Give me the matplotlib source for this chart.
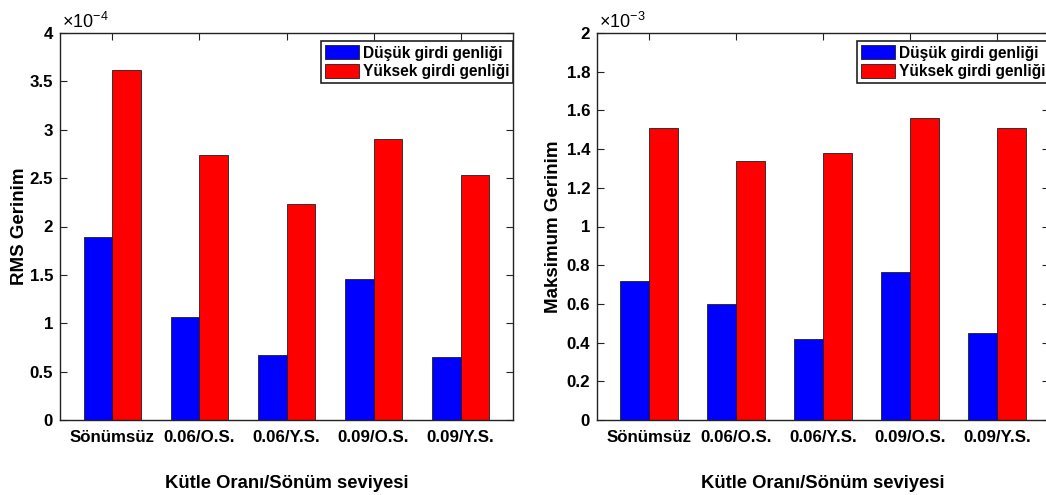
import matplotlib
matplotlib.use('Agg')
from matplotlib import pyplot as plt
from matplotlib.ticker import FuncFormatter
import numpy as np

plt.rcParams['font.family'] = ['Liberation Sans', 'DejaVu Sans']
plt.rcParams['mathtext.fontset'] = 'custom'
plt.rcParams['mathtext.rm'] = 'Liberation Sans'
plt.rcParams['mathtext.it'] = 'Liberation Sans'

categories = ['Sönümsüz', '0.06/O.S.', '0.06/Y.S.', '0.09/O.S.', '0.09/Y.S.']
series_names = ['Düşük girdi genliği', 'Yüksek girdi genliği']

# RMS strain, x 1e-4
rms_low = [1.89, 1.06, 0.67, 1.46, 0.65]
rms_high = [3.62, 2.74, 2.23, 2.90, 2.53]

# max strain, x 1e-3
max_low = [0.72, 0.60, 0.42, 0.765, 0.45]
max_high = [1.51, 1.34, 1.38, 1.56, 1.51]

BLUE = '#0000ff'
RED = '#ff0000'
W = 0.33


def fmt(v, pos):
	return '%g' % v


def draw_panel(ax, low, high, ylim, ystep, ylabel, mult):
	x = np.arange(1, len(categories) + 1)
	ax.bar(x - W/2, low, W, color=BLUE, edgecolor='#202020', linewidth=0.6, label=series_names[0])
	ax.bar(x + W/2, high, W, color=RED, edgecolor='#202020', linewidth=0.6, label=series_names[1])
	ax.set_xlim(0.4, 5.6)
	ax.set_ylim(0, ylim)
	ax.set_yticks(np.arange(0, ylim + ystep/2, ystep))
	ax.yaxis.set_major_formatter(FuncFormatter(fmt))
	ax.set_xticks(x)
	ax.set_xticklabels(categories, fontweight='bold', fontsize=12.2)
	for lab in ax.get_yticklabels():
		lab.set_fontweight('bold')
		lab.set_fontsize(12.2)
	ax.tick_params(direction='in', top=True, right=True, length=5, width=0.8, color='#222222')
	ax.tick_params(axis='x', pad=7)
	ax.tick_params(axis='y', pad=5)
	for s in ax.spines.values():
		s.set_linewidth(1.0)
		s.set_color('#222222')
	ax.set_ylabel(ylabel, fontweight='bold', fontsize=13.5)
	ax.set_xlabel('Kütle Oranı/Sönüm seviyesi', fontweight='bold', fontsize=13.3)
	ax.xaxis.set_label_coords(0.5, -0.143)
	ax.text(0.005, 1.003, r'$\times10^{%d}$' % mult, transform=ax.transAxes,
		ha='left', va='bottom', fontsize=13)
	leg = ax.legend(loc='upper right', bbox_to_anchor=(1.0, 0.979), borderaxespad=0,
		prop={'weight': 'bold', 'size': 11.2}, handlelength=2.2, handleheight=1.05,
		handletextpad=0.25, borderpad=0.25, labelspacing=0.2, fancybox=False,
		framealpha=1, edgecolor='#222222')
	leg.get_frame().set_linewidth(1.2)


fig = plt.figure(figsize=[10.46, 4.95], dpi=100)
ax1 = fig.add_axes([60/1046, 75/495, 453/1046, 387/495])
ax2 = fig.add_axes([597/1046, 75/495, 452/1046, 387/495])

draw_panel(ax1, rms_low, rms_high, 4, 0.5, 'RMS Gerinim', -4)
draw_panel(ax2, max_low, max_high, 2, 0.2, 'Maksimum Gerinim', -3)
ax1.yaxis.set_label_coords(-0.07, 0.5)
ax2.yaxis.set_label_coords(-0.078, 0.5)

plt.savefig('out.png', dpi=100)
plt.close()
